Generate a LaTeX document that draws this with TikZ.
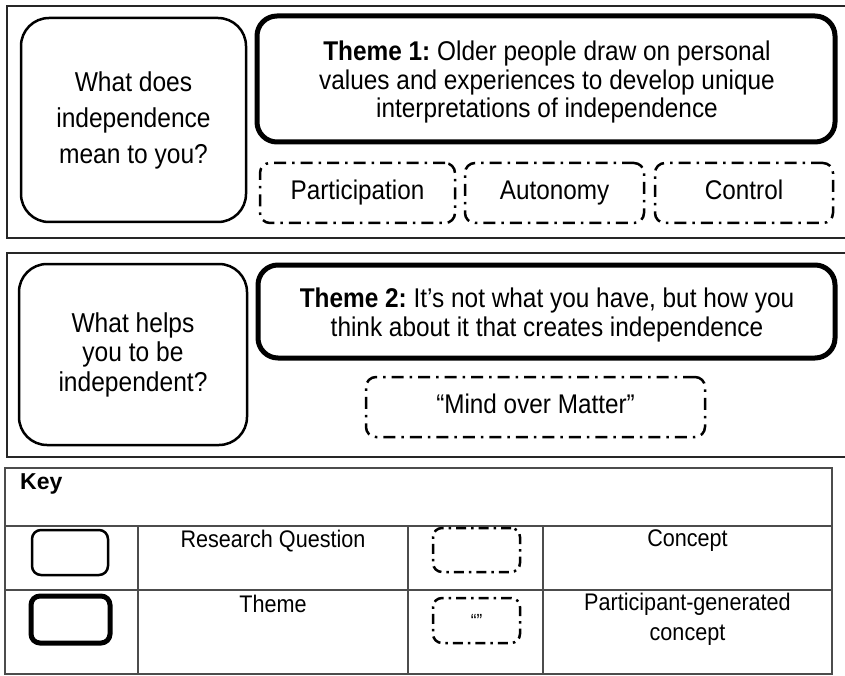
\documentclass[tikz,border=0pt]{standalone}
\usepackage{fontspec}
\setmainfont{Liberation Sans}[FakeStretch=0.9]
\newfontfamily\keyfont{Liberation Sans}
\frenchspacing
\tikzset{
  panel/.style={draw=black!85, line width=2.5pt},
  qbox/.style={draw, line width=2.5pt, rounded corners=28pt, align=center, inner sep=0pt,
    font=\fontsize{27.3}{36}\selectfont},
  themebox/.style={draw, line width=5pt, rounded corners=20pt, inner sep=0pt},
  themetext/.style={align=center, inner sep=0pt, font=\fontsize{27.1}{28.3}\selectfont},
  conbox/.style={draw, line width=2.5pt, rounded corners=10pt, inner sep=0pt,
    text height=19pt, text depth=6pt,
    dash pattern=on 12pt off 6pt on 2.5pt off 6pt, font=\fontsize{27}{28}\selectfont},
  keyline/.style={draw=black!70, line width=2pt},
  keytext/.style={font=\fontsize{24}{30}\selectfont, align=center, inner sep=0pt},
  iconthin/.style={draw, line width=2.5pt, rounded corners=9pt, inner sep=0pt},
  iconthick/.style={draw, line width=5pt, rounded corners=9pt, inner sep=0pt},
  icondash/.style={draw, line width=2.5pt, rounded corners=9pt, inner sep=0pt,
    dash pattern=on 10pt off 5pt on 2.5pt off 5pt},
}
\begin{document}
\begin{tikzpicture}[x=1pt,y=-1pt]
\useasboundingbox (0,0) rectangle (845,676);
\fill[white] (0,0) rectangle (845,676);
% panels
\draw[panel] (7,6) rectangle (852,238);
\draw[panel] (7,253) rectangle (852,457);
% panel 1
\node[qbox, minimum width=225pt, minimum height=204pt] (q1) at (133.5,120)
  {What does\\independence\\mean to you?};
\node[themebox, minimum width=578pt, minimum height=126pt] (t1) at (546,79) {};
\node[themetext] (t1text) at (547,82)
  {\textbf{Theme 1:} Older people draw on personal\\values and experiences to develop unique\\interpretations of independence};
\node[conbox, minimum width=195pt, minimum height=60pt] (c1) at (357.5,193) {Participation};
\node[conbox, minimum width=179pt, minimum height=60pt] (c2) at (554.5,193) {Autonomy};
\node[conbox, minimum width=178pt, minimum height=60pt] (c3) at (744,193) {Control};
% panel 2
\node[qbox, minimum width=228pt, minimum height=181pt, font=\fontsize{27.3}{29.5}\selectfont] (q2) at (133,354.5)
  {What helps\\you to be\\independent?};
\node[themebox, minimum width=577pt, minimum height=93pt] (t2) at (546.5,311.5) {};
\node[themetext] (t2text) at (547,315)
  {\textbf{Theme 2:} It’s not what you have, but how you\\think about it that creates independence};
\node[conbox, minimum width=339pt, minimum height=60pt] (c4) at (535.5,407) {“Mind over Matter”};
% key table
\draw[keyline] (5,468) rectangle (832,674);
\draw[keyline] (5,526) -- (832,526);
\draw[keyline] (5,590) -- (832,590);
\draw[keyline] (138,526) -- (138,674);
\draw[keyline] (408,526) -- (408,674);
\draw[keyline] (543,526) -- (543,674);
\node[anchor=west, inner sep=0pt, font=\keyfont\fontsize{23}{28}\selectfont\bfseries] (key) at (20,484) {Key};
\node[iconthin, minimum width=76pt, minimum height=45pt] (i1) at (70,552.5) {};
\node[iconthick, minimum width=79pt, minimum height=47pt] (i2) at (70.5,619.5) {};
\node[icondash, minimum width=87pt, minimum height=44pt] (i3) at (476.5,550) {};
\node[icondash, minimum width=87pt, minimum height=45pt, font=\fontsize{19}{20}\selectfont] (i4) at (476.5,620.5) {“”};
\node[keytext] (l1) at (273,541) {Research Question};
\node[keytext] (l2) at (687.5,541) {Concept};
\node[keytext] (l3) at (273,604) {Theme};
\node[keytext] (l4) at (687.5,619) {Participant-generated\\concept};
\end{tikzpicture}
\end{document}
